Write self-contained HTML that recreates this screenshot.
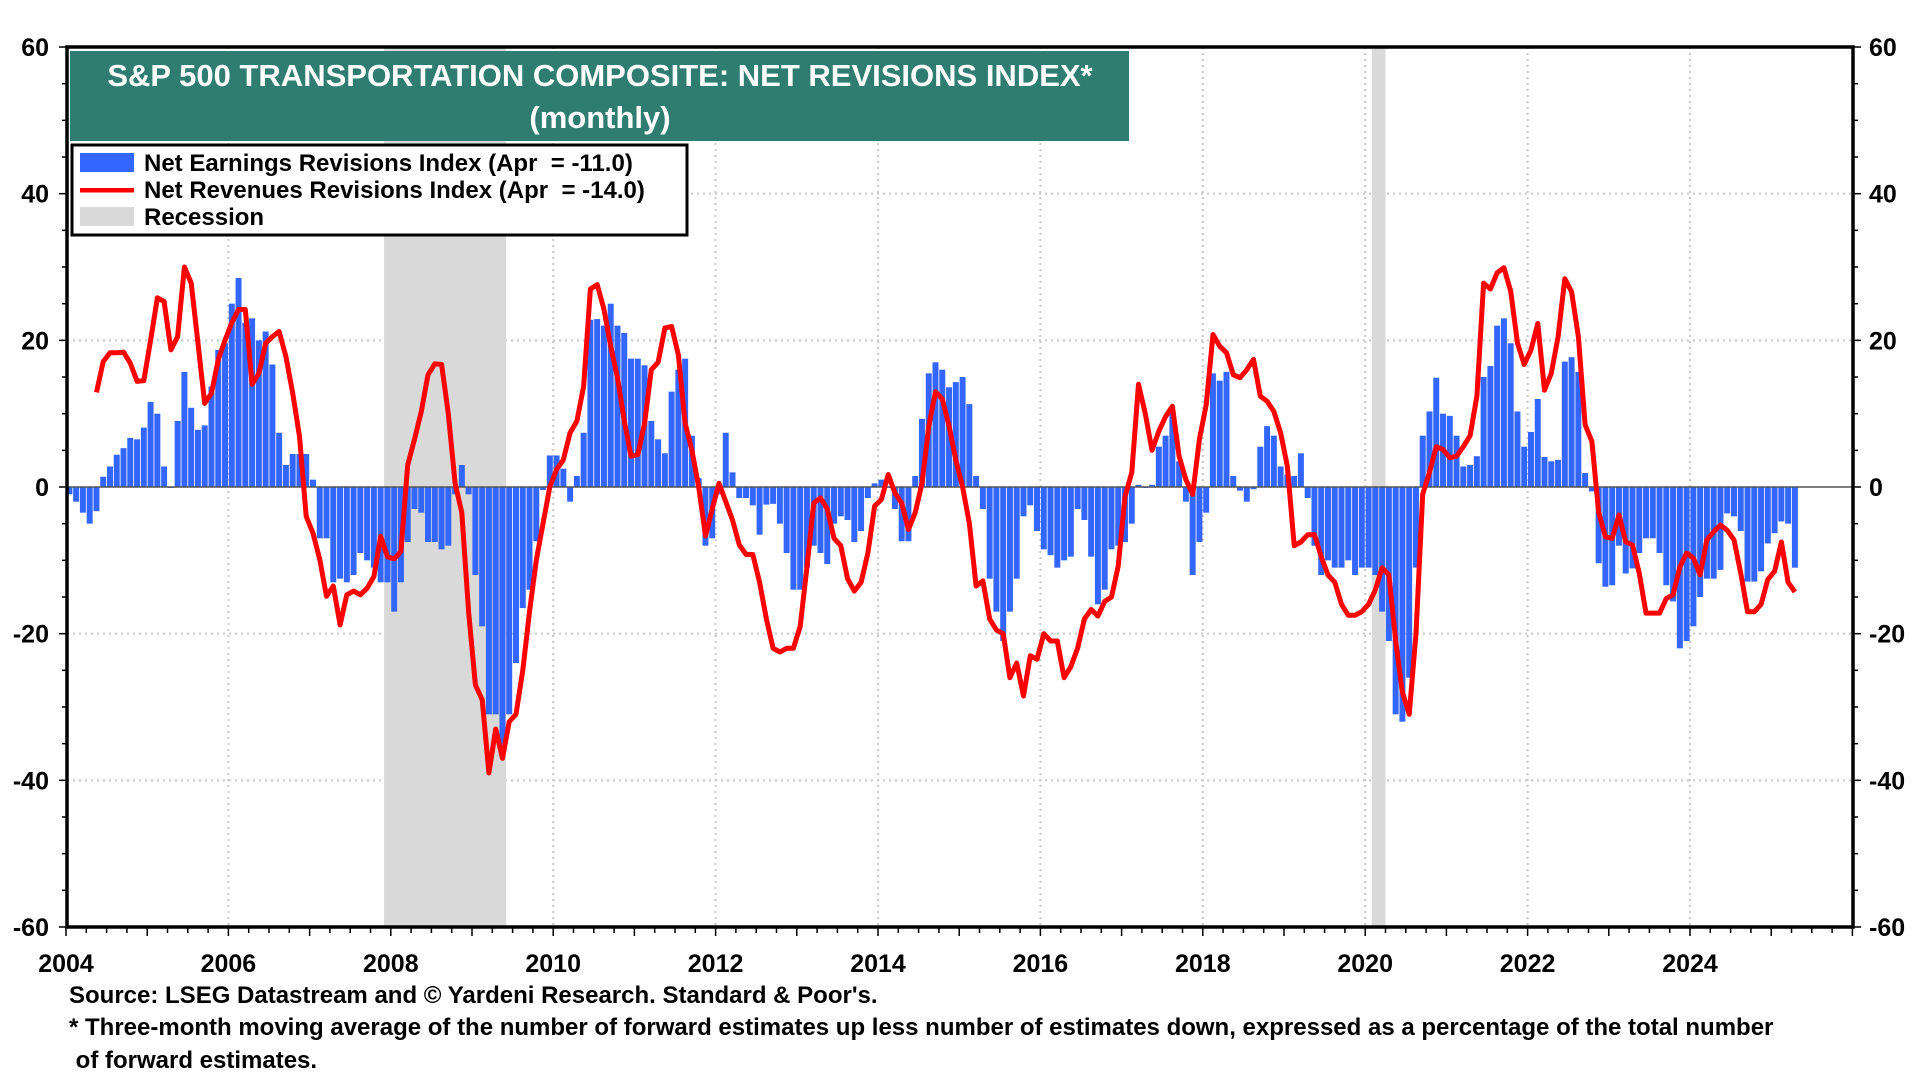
<!DOCTYPE html>
<html><head><meta charset="utf-8"><title>S&amp;P 500 Transportation Composite: Net Revisions Index</title>
<style>
html,body{margin:0;padding:0;background:#fff;}
svg{display:block;font-family:"Liberation Sans",Arial,sans-serif;}
</style></head>
<body>
<svg id="chart" width="1920" height="1080" viewBox="0 0 1920 1080" xmlns="http://www.w3.org/2000/svg">
<g id="grid"></g>
<g id="recess"></g>
<g id="bars"></g>
<line id="zero" x1="67" x2="1853" stroke="#555" stroke-width="1.5"/>
<g id="lineg"></g>
<g id="axes"></g>
<rect x="67" y="47" width="1786" height="880" fill="none" stroke="#000" stroke-width="3.5"/>
<g>
<rect x="70" y="51" width="1059" height="90" fill="#2e7d70"/>
<text x="600" y="86" fill="#fff" font-size="31" font-weight="bold" text-anchor="middle">S&amp;P 500 TRANSPORTATION COMPOSITE: NET REVISIONS INDEX*</text>
<text x="600" y="128" fill="#fff" font-size="31" font-weight="bold" text-anchor="middle">(monthly)</text>
</g>
<g>
<rect x="72" y="145" width="615" height="90" fill="#fff" stroke="#000" stroke-width="3"/>
<g>
<rect x="80" y="153" width="54" height="19" fill="#3366ff"/>
<text x="144" y="171" font-size="24" font-weight="bold">Net Earnings Revisions Index (Apr&#160;&#160;= -11.0)</text></g>
<g>
<rect x="80" y="188" width="54" height="4.5" fill="#ff0000"/>
<text x="144" y="198" font-size="24" font-weight="bold">Net Revenues Revisions Index (Apr&#160;&#160;= -14.0)</text></g>
<g>
<rect x="80" y="207" width="54" height="19" fill="#d9d9d9"/>
<text x="144" y="225" font-size="24" font-weight="bold">Recession</text></g>
</g>
<g font-size="24" font-weight="bold">
<text x="69" y="1003">Source: LSEG Datastream and © Yardeni Research. Standard &amp; Poor's.</text>
<text x="69" y="1035">* Three-month moving average of the number of forward estimates up less number of estimates down, expressed as a percentage of the total number</text>
<text x="69" y="1068">&#160;of forward estimates.</text>
</g>
</svg>
<script>
const yTicks = [60,40,20,0,-20,-40,-60];
const xTickYears = [2004,2006,2008,2010,2012,2014,2016,2018,2020,2022,2024];
const recessions = [[2007.917,2009.42],[2020.08,2020.25]];
const startYear = 2004;
const earnings = [
-1,-2,-3.5,-5,-3.3,1.4,2.8,4.4,5.3,6.7,6.5,8.1,
11.6,10,2.8,0,9,15.7,10.8,7.8,8.4,13.7,18.7,19.6,
25,28.5,22.4,23,20,21.2,16.7,7.4,3,4.5,4.5,4.5,
1,-7,-7,-13,-12.5,-13,-12,-9,-10,-11,-13,-13,
-17,-13,-7.5,-3,-3.5,-7.5,-7.5,-8.5,-8,-1,3,-1,
-12,-19,-31,-31,-36,-31,-24,-16.5,-14,-7.4,-0.4,4.3,
4.3,2.5,-2,1.5,7.4,22.8,22.9,22,25,22,21,17.5,
17.5,16.6,9,6.5,4.6,13,16,17.5,7,1.2,-8,-7,
-1,7.4,2,-1.5,-1.5,-2.5,-6.5,-2.4,-2.3,-5,-9,-14,
-14,-11,-8,-9,-10.5,-5,-4,-4.5,-7.5,-6,-1.5,0.5,
1,0,-3,-7.4,-7.4,1.5,9.3,15.5,17,16,13.6,14.3,
15,11.3,1.5,-3,-12.5,-17,-21,-17,-12.5,-4,-2.5,-6,
-8.5,-9.3,-11,-10,-9.5,-3,-4.5,-9.5,-16,-14,-8.5,-8,
-7.5,-5,0.3,0,0.3,5.5,7,10,3.5,-2,-12,-7.5,
-3.5,15.5,14.5,15.7,1.5,-0.5,-2,-0.3,5.5,8.3,7,2.8,
1.7,1.5,4.6,-1.5,-8,-12,-10,-11,-11,-10,-12,-11,
-11,-12,-17,-21,-31,-32,-26,-11,7,10.3,14.9,10,
9.7,7,2.8,3,4.2,15,16.5,22,23,19.6,10.3,5.5,
7.5,12,4.1,3.5,3.7,17.1,17.7,15.7,1.9,-0.6,-10.4,-13.6,
-13.4,-8,-11.8,-11.1,-9,-7,-7,-9,-13.4,-15.6,-22,-21,
-19,-15,-12.5,-12.5,-11.3,-3.6,-4,-6,-12.9,-12.9,-11.5,-7.7,
-6.3,-4.7,-5,-11];
const revenues = [
null,null,null,null,12.9,17.1,18.3,18.3,18.4,16.9,14.4,14.5,
20,25.8,25.3,18.7,20.5,30,27.8,19.6,11.4,12.8,17.4,20,
22.4,24.2,24.2,14,15.5,19.6,20.5,21.2,17.8,12.8,6.9,-4,
-6.3,-9.9,-14.9,-13.5,-18.8,-14.7,-14.2,-14.7,-13.8,-12.2,-6.7,-9.5,
-9.8,-8.8,3,6.5,10.3,15.3,16.8,16.7,10,0.5,-3.5,-17,
-27,-29,-39,-33,-37,-32,-31,-25,-17,-10,-5,0,
2.4,3.7,7.4,9,13.7,27,27.6,24.2,19.2,14.9,9,4.2,
4.4,8.7,16,17,21.7,21.9,18,8.7,5,0,-6.7,-3,
0.5,-2,-4.5,-7.9,-9.2,-9.2,-13,-18,-22,-22.5,-22,-22,
-19,-11,-2.2,-1.5,-3,-7,-8,-12.5,-14.2,-13,-9,-2.6,
-1.7,1.7,-0.8,-2.2,-5.8,-3.5,0.5,8.3,13,12,8.3,3.7,
0,-5,-13.5,-12.8,-18,-19.5,-20,-26,-24,-28.5,-23,-23.5,
-20,-21,-21,-26,-24.5,-22,-18,-16.7,-17.6,-15.6,-15,-10.8,
-1.3,2,14,10,5,7.6,9.6,11,4.2,1,-1,6.5,
11.2,20.8,19.2,18.3,15.3,14.9,16,17.4,12.4,11.7,10.3,7.4,
2.8,-8,-7.5,-6.5,-6.5,-9.5,-12,-13,-16,-17.5,-17.5,-17,
-16,-14,-11,-12,-21,-28,-31,-20,-1,2,5.5,5.1,
4,4.2,5.5,7,12.4,27.8,27,29.2,29.9,26.7,19.6,16.7,
18.7,22.3,13.2,15.5,20.5,28.4,26.6,20.5,8.5,6.2,-3.4,-6.8,
-7,-3.8,-7.5,-7.9,-11.8,-17.2,-17.2,-17.2,-15.2,-14.7,-10.9,-9,
-9.7,-12,-7.2,-6.1,-5.2,-5.9,-7.2,-11.8,-17,-17,-16,-12.6,
-11.5,-7.5,-13,-14.3];

const NS = "http://www.w3.org/2000/svg";
const L = 67, R = 1853, T = 47, B = 927, X0 = 66, YW = 81.2;
function xYear(y){ return X0 + (y - 2004) * YW; }
function xMonth(i){ return X0 + i * YW / 12; }
function yVal(v){ return 487 - v * 7.333; }
function mk(tag, attrs, parent){ const e = document.createElementNS(NS, tag); for (const k in attrs) e.setAttribute(k, attrs[k]); parent.appendChild(e); return e; }

const grid = document.getElementById('grid');
yTicks.forEach(v => {
  if (v === 0 || v === 60 || v === -60) return;
  const l = mk('line', {x1:L, x2:R, y1:yVal(v), y2:yVal(v), stroke:'#c8c8c8', 'stroke-width':2, 'stroke-dasharray':'2,4'}, grid);
  
  
});
xTickYears.forEach(y => {
  if (y === 2004) return;
  const l = mk('line', {x1:xYear(y), x2:xYear(y), y1:T, y2:B, stroke:'#c8c8c8', 'stroke-width':2, 'stroke-dasharray':'2,4'}, grid);
  
  
});

const rg = document.getElementById('recess');
recessions.forEach(r => {
  const e = mk('rect', {x:xYear(r[0]), y:T, width:xYear(r[1]) - xYear(r[0]), height:B - T, fill:'#d9d9d9'}, rg);
  
  
});

const bg = document.getElementById('bars');
earnings.forEach((v, i) => {
  const x1 = xMonth(i), x2 = xMonth(i + 1);
  const y0 = yVal(0), y1 = yVal(v);
  const e = mk('rect', {x:x1 + 0.4, y:Math.min(y0, y1), width:x2 - x1 - 0.8, height:Math.max(1, Math.abs(y1 - y0)), fill:'#3366ff'}, bg);
  
  
});

document.getElementById('zero').setAttribute('y1', yVal(0));
document.getElementById('zero').setAttribute('y2', yVal(0));

let d = '';
revenues.forEach((v, i) => {
  if (v === null) return;
  const x = xMonth(i + 0.5), y = yVal(v);
  d += (d ? 'L' : 'M') + x.toFixed(1) + ',' + y.toFixed(1);
});
const lp = mk('path', {d:d, fill:'none', stroke:'#ff0000', 'stroke-width':5, 'stroke-linejoin':'round'}, document.getElementById('lineg'));



const ax = document.getElementById('axes');
for (let v = -60; v <= 60; v += 5) {
  const major = v % 20 === 0;
  const len = major ? 8 : 5;
  mk('line', {x1:L - len, x2:L, y1:yVal(v), y2:yVal(v), stroke:'#000', 'stroke-width':1.5}, ax);
  mk('line', {x1:R, x2:R + len, y1:yVal(v), y2:yVal(v), stroke:'#000', 'stroke-width':1.5}, ax);
}
yTicks.forEach(v => {
  const t1 = mk('text', {x:49, y:yVal(v) + 9, 'font-size':25, 'font-weight':'bold', 'text-anchor':'end'}, ax);
  t1.textContent = v;
  
  
  const t2 = mk('text', {x:1869, y:yVal(v) + 9, 'font-size':25, 'font-weight':'bold', 'text-anchor':'start'}, ax);
  t2.textContent = v;
  
  
});
for (let q = 0; q <= 88; q++) {
  const x = xYear(2004 + q / 4);
  if (x > R + 1) break;
  const major = q % 4 === 0;
  mk('line', {x1:x, x2:x, y1:B, y2:B + (major ? 9 : 6), stroke:'#000', 'stroke-width':1.5}, ax);
}
xTickYears.forEach(y => {
  const t = mk('text', {x:xYear(y), y:972, 'font-size':25, 'font-weight':'bold', 'text-anchor':'middle'}, ax);
  t.textContent = y;
  
  
});
</script>
</body></html>
